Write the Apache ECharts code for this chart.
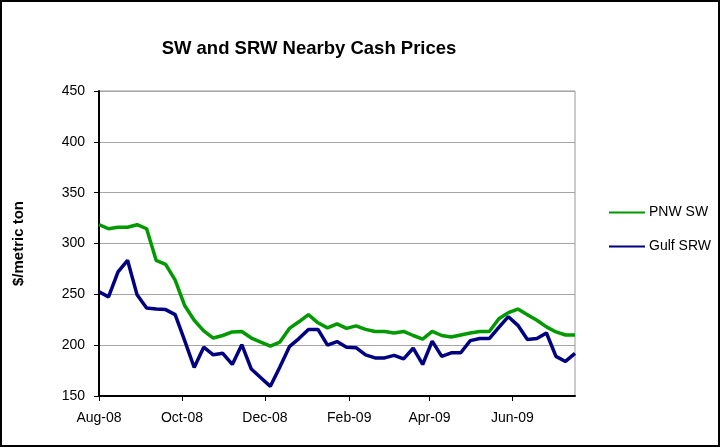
<!DOCTYPE html>
<html>
<head>
<meta charset="utf-8">
<script src="https://cdn.jsdelivr.net/npm/echarts@6/dist/echarts.min.js"></script>
<style>
html,body{margin:0;padding:0;background:#fff;}
#chart{width:721px;height:448px;}
</style>
</head>
<body>
<div id="chart"></div>
<script>
// Weekly observation dates (Fridays)
const dates = [
  '2008-08-01','2008-08-08','2008-08-15','2008-08-22','2008-08-29',
  '2008-09-05','2008-09-12','2008-09-19','2008-09-26',
  '2008-10-03','2008-10-10','2008-10-17','2008-10-24','2008-10-31',
  '2008-11-07','2008-11-14','2008-11-21','2008-11-28',
  '2008-12-05','2008-12-12','2008-12-19','2008-12-26',
  '2009-01-02','2009-01-09','2009-01-16','2009-01-23','2009-01-30',
  '2009-02-06','2009-02-13','2009-02-20','2009-02-27',
  '2009-03-06','2009-03-13','2009-03-20','2009-03-27',
  '2009-04-03','2009-04-10','2009-04-17','2009-04-24',
  '2009-05-01','2009-05-08','2009-05-15','2009-05-22','2009-05-29',
  '2009-06-05','2009-06-12','2009-06-19','2009-06-26',
  '2009-07-03','2009-07-10','2009-07-17'
];
const pnwSW = [
  318.5,314.5,316,316,318.5,314.5,283.5,279.5,264,239,
  224.5,214,207,209.5,213,213.5,207,203,199,203,
  216.5,223,230,222,217,221,216.5,219,215.5,213.5,
  213.5,212,213.5,209.5,206,213.5,209.5,208,210,212,
  213.5,213.5,226,232,235.5,230,224.5,218,213,210,210
];
const gulfSRW = [
  252.5,247.5,272,283.5,249.5,236.5,235.5,235,230,204.5,
  178,198,190.5,192,181,200.5,176.5,168,159.5,178.5,
  198.5,206.5,215.5,215.5,200,203.5,198,197.5,190.5,187.5,
  187.5,190,186.5,197,181,204,189,192.5,192.5,204.5,
  206.5,206.5,217.5,228,219.5,205.5,206.5,212,189,184,192
];
const tickDates = ['2008-08-01','2008-10-01','2008-12-01','2009-02-01','2009-04-01','2009-06-01'];
const tickLabels = ['Aug-08','Oct-08','Dec-08','Feb-09','Apr-09','Jun-09'];
const seriesNames = ['PNW SW','Gulf SRW'];

function ts(s){ const p = s.split('-'); return Date.UTC(+p[0], +p[1]-1, +p[2]); }
const t0 = ts(dates[0]);
function dayOf(s){ return Math.round((ts(s) - t0) / 86400000); }
const xDays = dates.map(dayOf);
const tickDays = tickDates.map(dayOf);
const labelMap = {};
tickDays.forEach((d,i)=>{ labelMap[d] = tickLabels[i]; });

const chart = echarts.init(document.getElementById('chart'), null, {renderer:'canvas'});
const font = 'Liberation Sans, Arial, sans-serif';
chart.setOption({
  animation:false,
  backgroundColor:'#fff',
  title:{
    text:'SW and SRW Nearby Cash Prices',
    left:304, top:34, textAlign:'center',
    textStyle:{fontFamily:font, fontSize:18.5, fontWeight:'bold', color:'#000'}
  },
  graphic:[{
    type:'rect', shape:{x:1,y:1,width:718,height:445},
    style:{fill:null, stroke:'#000', lineWidth:2}, silent:true, z:100
  }],
  legend:{
    orient:'vertical', left:609, top:205, padding:0,
    icon:'rect', itemWidth:36, itemHeight:2, itemGap:19, itemStyle:{borderWidth:0},
    textStyle:{fontFamily:font, fontSize:14, color:'#000', lineHeight:15, padding:[0,0,0,-1]},
    data:seriesNames
  },
  grid:{left:99, right:146, top:91, bottom:52, show:true, borderColor:'#999', borderWidth:1},
  xAxis:{
    type:'value',
    min:xDays[0], max:xDays[xDays.length-1],
    axisLine:{show:true, onZero:false, lineStyle:{color:'#000', width:2}},
    axisTick:{show:true, customValues:tickDays, length:5, lineStyle:{color:'#000'}},
    axisLabel:{customValues:tickDays, formatter:(v)=>labelMap[v]||'', fontFamily:font, fontSize:14, color:'#000', margin:15},
    splitLine:{show:false}
  },
  yAxis:{
    type:'value', min:150, max:450, interval:50,
    name:'$/metric ton', nameLocation:'middle', nameGap:73, nameRotate:90,
    nameTextStyle:{fontFamily:font, fontSize:15, fontWeight:'bold', color:'#000'},
    axisLine:{show:true, lineStyle:{color:'#000', width:2}},
    axisTick:{show:true, length:5, lineStyle:{color:'#000'}},
    axisLabel:{fontFamily:font, fontSize:14, color:'#000', margin:14},
    splitLine:{show:true, lineStyle:{color:'#a6a6a6', width:1}}
  },
  series:[
    {name:seriesNames[0], type:'line', showSymbol:false, symbol:'none',
     data:xDays.map((d,i)=>[d, pnwSW[i]]),
     lineStyle:{color:'#009900', width:3.5}, itemStyle:{color:'#009900'}, z:2},
    {name:seriesNames[1], type:'line', showSymbol:false, symbol:'none',
     data:xDays.map((d,i)=>[d, gulfSRW[i]]),
     lineStyle:{color:'#000080', width:3.5}, itemStyle:{color:'#000080'}, z:3}
  ]
});
</script>
</body>
</html>
